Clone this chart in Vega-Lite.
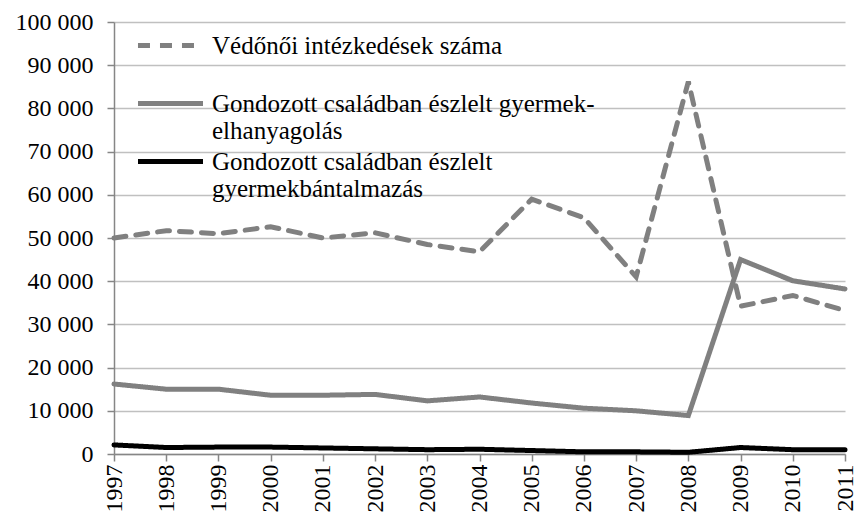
{
  "$schema": "https://vega.github.io/schema/vega-lite/v6.json",
  "width": 731,
  "height": 432,
  "autosize": {"type": "none"},
  "padding": {"left": 114, "top": 22, "right": 9, "bottom": 64},
  "background": "white",
  "data": {
    "values": [
      {"Year": "1997", "series": "Védőnői intézkedések száma", "value": 50000},
      {"Year": "1998", "series": "Védőnői intézkedések száma", "value": 51700},
      {"Year": "1999", "series": "Védőnői intézkedések száma", "value": 51000},
      {"Year": "2000", "series": "Védőnői intézkedések száma", "value": 52600},
      {"Year": "2001", "series": "Védőnői intézkedések száma", "value": 50000},
      {"Year": "2002", "series": "Védőnői intézkedések száma", "value": 51200},
      {"Year": "2003", "series": "Védőnői intézkedések száma", "value": 48500},
      {"Year": "2004", "series": "Védőnői intézkedések száma", "value": 46800},
      {"Year": "2005", "series": "Védőnői intézkedések száma", "value": 59000},
      {"Year": "2006", "series": "Védőnői intézkedések száma", "value": 54700},
      {"Year": "2007", "series": "Védőnői intézkedések száma", "value": 41000},
      {"Year": "2008", "series": "Védőnői intézkedések száma", "value": 86200},
      {"Year": "2009", "series": "Védőnői intézkedések száma", "value": 34200},
      {"Year": "2010", "series": "Védőnői intézkedések száma", "value": 36700},
      {"Year": "2011", "series": "Védőnői intézkedések száma", "value": 33200},
      {"Year": "1997", "series": "Gondozott családban észlelt gyermek-elhanyagolás", "value": 16200},
      {"Year": "1998", "series": "Gondozott családban észlelt gyermek-elhanyagolás", "value": 15000},
      {"Year": "1999", "series": "Gondozott családban észlelt gyermek-elhanyagolás", "value": 15000},
      {"Year": "2000", "series": "Gondozott családban észlelt gyermek-elhanyagolás", "value": 13600},
      {"Year": "2001", "series": "Gondozott családban észlelt gyermek-elhanyagolás", "value": 13600},
      {"Year": "2002", "series": "Gondozott családban észlelt gyermek-elhanyagolás", "value": 13800},
      {"Year": "2003", "series": "Gondozott családban észlelt gyermek-elhanyagolás", "value": 12300},
      {"Year": "2004", "series": "Gondozott családban észlelt gyermek-elhanyagolás", "value": 13200},
      {"Year": "2005", "series": "Gondozott családban észlelt gyermek-elhanyagolás", "value": 11800},
      {"Year": "2006", "series": "Gondozott családban észlelt gyermek-elhanyagolás", "value": 10600},
      {"Year": "2007", "series": "Gondozott családban észlelt gyermek-elhanyagolás", "value": 10000},
      {"Year": "2008", "series": "Gondozott családban észlelt gyermek-elhanyagolás", "value": 8900},
      {"Year": "2009", "series": "Gondozott családban észlelt gyermek-elhanyagolás", "value": 45000},
      {"Year": "2010", "series": "Gondozott családban észlelt gyermek-elhanyagolás", "value": 40100},
      {"Year": "2011", "series": "Gondozott családban észlelt gyermek-elhanyagolás", "value": 38200},
      {"Year": "1997", "series": "Gondozott családban észlelt gyermekbántalmazás", "value": 2100},
      {"Year": "1998", "series": "Gondozott családban észlelt gyermekbántalmazás", "value": 1500},
      {"Year": "1999", "series": "Gondozott családban észlelt gyermekbántalmazás", "value": 1600},
      {"Year": "2000", "series": "Gondozott családban észlelt gyermekbántalmazás", "value": 1600},
      {"Year": "2001", "series": "Gondozott családban észlelt gyermekbántalmazás", "value": 1400},
      {"Year": "2002", "series": "Gondozott családban észlelt gyermekbántalmazás", "value": 1200},
      {"Year": "2003", "series": "Gondozott családban észlelt gyermekbántalmazás", "value": 1000},
      {"Year": "2004", "series": "Gondozott családban észlelt gyermekbántalmazás", "value": 1100},
      {"Year": "2005", "series": "Gondozott családban észlelt gyermekbántalmazás", "value": 800},
      {"Year": "2006", "series": "Gondozott családban észlelt gyermekbántalmazás", "value": 500},
      {"Year": "2007", "series": "Gondozott családban észlelt gyermekbántalmazás", "value": 500},
      {"Year": "2008", "series": "Gondozott családban észlelt gyermekbántalmazás", "value": 400},
      {"Year": "2009", "series": "Gondozott családban észlelt gyermekbántalmazás", "value": 1500},
      {"Year": "2010", "series": "Gondozott családban észlelt gyermekbántalmazás", "value": 1000},
      {"Year": "2011", "series": "Gondozott családban észlelt gyermekbántalmazás", "value": 1000}
    ]
  },
  "mark": {"type": "line", "strokeWidth": 5, "strokeJoin": "miter", "strokeCap": "round"},
  "encoding": {
    "x": {
      "field": "Year",
      "type": "ordinal",
      "scale": {"type": "point", "padding": 0},
      "axis": {
        "title": null,
        "labelAngle": -90,
        "labelAlign": "right",
        "labelBaseline": "middle",
        "labelFont": "Liberation Serif",
        "labelFontSize": 24,
        "labelColor": "#000000",
        "labelPadding": 3,
        "tickSize": 7,
        "tickColor": "#868686",
        "tickWidth": 1.5,
        "domainColor": "#868686",
        "domainWidth": 1.5,
        "grid": false
      }
    },
    "y": {
      "field": "value",
      "type": "quantitative",
      "scale": {"domain": [0, 100000], "nice": false},
      "axis": {
        "title": null,
        "values": [0, 10000, 20000, 30000, 40000, 50000, 60000, 70000, 80000, 90000, 100000],
        "labelExpr": "replace(format(datum.value, ','), ',', ' ')",
        "labelFont": "Liberation Serif",
        "labelFontSize": 24,
        "labelColor": "#000000",
        "labelPadding": 14,
        "tickSize": 7,
        "tickColor": "#868686",
        "tickWidth": 1.5,
        "domainColor": "#868686",
        "domainWidth": 1.5,
        "grid": true,
        "gridColor": "#c0c0c0",
        "gridWidth": 1.5
      }
    },
    "color": {
      "field": "series",
      "type": "nominal",
      "scale": {
        "domain": ["Védőnői intézkedések száma", "Gondozott családban észlelt gyermek-elhanyagolás", "Gondozott családban észlelt gyermekbántalmazás"],
        "range": ["#808080", "#808080", "#000000"]
      },
      "legend": {
        "title": null,
        "orient": "none",
        "legendX": 43,
        "legendY": 10,
        "symbolType": "M-3,0L3,0",
        "symbolSize": 470,
        "symbolStrokeWidth": 5,
        "labelFont": "Liberation Serif",
        "labelFontSize": 25,
        "labelColor": "#000000",
        "labelOffset": 28,
        "labelLimit": 600,
        "labelBaseline": "middle",
        "gridAlign": "all",
        "rowPadding": 4,
        "labelExpr": "datum.label == 'Gondozott családban észlelt gyermek-elhanyagolás' ? ['Gondozott családban észlelt gyermek-', 'elhanyagolás'] : datum.label == 'Gondozott családban észlelt gyermekbántalmazás' ? ['Gondozott családban észlelt', 'gyermekbántalmazás'] : datum.label"
      }
    },
    "strokeDash": {
      "field": "series",
      "type": "nominal",
      "scale": {
        "domain": ["Védőnői intézkedések száma", "Gondozott családban észlelt gyermek-elhanyagolás", "Gondozott családban észlelt gyermekbántalmazás"],
        "range": [[12, 10], [1, 0], [1, 0]]
      },
      "legend": {
        "title": null,
        "orient": "none",
        "legendX": 43,
        "legendY": 10,
        "symbolType": "M-3,0L3,0",
        "symbolSize": 470,
        "symbolStrokeWidth": 5,
        "labelFont": "Liberation Serif",
        "labelFontSize": 25,
        "labelColor": "#000000",
        "labelOffset": 28,
        "labelLimit": 600,
        "labelBaseline": "middle",
        "gridAlign": "all",
        "rowPadding": 4,
        "labelExpr": "datum.label == 'Gondozott családban észlelt gyermek-elhanyagolás' ? ['Gondozott családban észlelt gyermek-', 'elhanyagolás'] : datum.label == 'Gondozott családban észlelt gyermekbántalmazás' ? ['Gondozott családban észlelt', 'gyermekbántalmazás'] : datum.label"
      }
    }
  },
  "config": {
    "view": {"stroke": null},
    "font": "Liberation Serif"
  }
}
